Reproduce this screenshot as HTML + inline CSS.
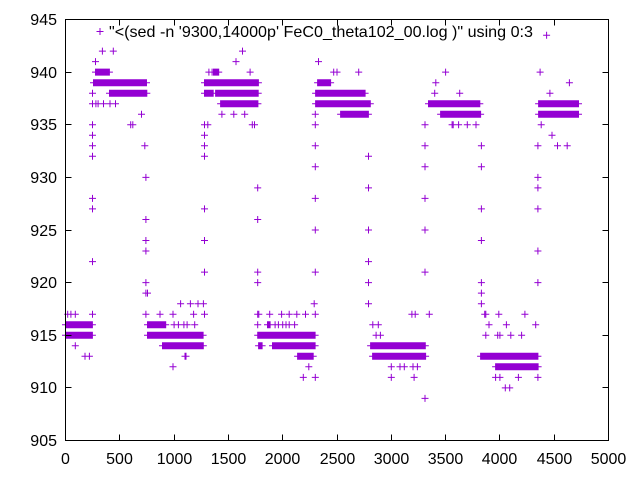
<!DOCTYPE html>
<html><head><meta charset="utf-8"><style>
body{margin:0;background:#fff}
svg{display:block;font-family:"Liberation Sans",Arial,sans-serif}
</style></head><body>
<svg id="chart" width="640" height="480" viewBox="0 0 640 480">
<rect x="0" y="0" width="640" height="480" fill="#fff"/>
<g id="marks"></g>
<rect x="65.5" y="19.5" width="543" height="421" fill="none" stroke="#000" stroke-width="1"/>
<g id="axes"></g>
<g>
<text x="533" y="37" font-size="16" text-anchor="end" fill="#000" textLength="424" lengthAdjust="spacingAndGlyphs">"&lt;(sed -n '9300,14000p' FeC0_theta102_00.log )" using 0:3</text>
<g id="legendMark"></g>
</g>
</svg>
<script>
const xTicks=[0,500,1000,1500,2000,2500,3000,3500,4000,4500,5000];
const yTicks=[905,910,915,920,925,930,935,940,945];
// runs of dense points: [xStart, xEnd, y]
const runStart=[0,0,276,258,405,755,755,893,1363,1280,1280,1382,1428,1860,1778,1778,1906,2137,2321,2303,2303,2533,2809,2828,3343,3454,3822,3960,4356,4356];
const runEnd=[249,249,405,746,755,930,1271,1271,1418,1778,1363,1778,1778,1888,2303,1814,2303,2284,2441,2763,2809,2790,3316,3316,3822,3822,4356,4356,4725,4725];
const runY=[916,915,940,939,938,916,915,914,940,939,938,938,937,916,915,914,914,913,939,938,937,936,914,913,937,936,913,912,937,936];
// isolated points
const ptX=[20,50,90,249,90,180,220,249,249,249,249,249,249,249,249,249,
 276,340,440,280,300,350,410,460,290,330,600,700,620,730,740,740,740,740,740,740,740,
 755,870,990,1180,1000,1040,1090,1120,1190,1060,1150,1220,1270,1100,1110,990,1280,1280,1280,1280,1280,1280,1280,1280,
 1320,1350,1700,1550,1600,1440,1550,1650,1280,1310,1720,1740,1570,1630,1770,1770,1770,1770,1770,1770,1770,1770,
 1780,1880,1990,2060,2130,2210,1930,1960,2000,2030,2060,2110,2290,2240,2190,2300,2300,2300,2300,2300,2300,2300,2300,2300,
 2330,2470,2700,2500,2790,2790,2790,2790,2790,2790,2830,2880,3190,3220,2860,2900,3000,3080,3120,3200,3240,3000,3210,3310,3310,3310,3310,3310,3310,3310,
 3350,3400,3410,3630,3500,3560,3620,3700,3780,3570,3830,3830,3830,3830,3830,3830,3830,
 3870,3990,4230,4330,3860,3980,4000,4100,4200,3870,4060,3900,3960,4000,4050,4090,4170,
 4350,4350,4350,4350,4350,4350,4350,4380,4480,4460,4640,4370,4430,4530,4620];
const ptY=[917,917,917,917,914,913,913,922,927,928,932,933,934,935,937,938,
 941,942,942,937,937,937,937,937,939,939,935,936,935,933,930,926,924,923,920,919,917,
 919,917,917,917,916,916,916,916,916,918,918,918,918,913,913,912,917,921,924,927,932,933,934,935,
 940,940,940,939,939,936,936,936,935,935,935,935,941,942,929,926,921,921,920,917,916,915,
 917,917,917,917,917,917,916,916,916,916,916,916,918,912,911,911,917,921,925,928,931,933,935,936,
 941,940,940,940,932,929,925,922,920,918,916,916,917,917,915,915,912,912,912,912,912,911,911,909,935,933,931,928,925,921,917,
 938,939,938,940,935,935,935,935,935,933,931,927,924,920,919,918,917,
 917,917,916,917,915,915,915,915,915,916,916,911,911,910,910,911,911,
 933,930,929,927,923,920,935,934,938,939,940,943.5,933,933,933];
const X0=65.5,X1=608.5,Y0=440.5,Y1=19.5;
const sx=v=>X0+(v-0)/(5000-0)*(X1-X0);
const sy=v=>Y0-(v-905)/(945-905)*(Y0-Y1);
const NS="http://www.w3.org/2000/svg";
const marks=document.getElementById('marks');
let d="";
function plus(px,py){d+=`M${(px-3.5).toFixed(1)} ${py.toFixed(1)}h7M${px.toFixed(1)} ${(py-3.5).toFixed(1)}v7`;}
for(let i=0;i<runY.length;i++){
  for(let x=runStart[i];x<=runEnd[i];x+=8){plus(sx(x),sy(runY[i]));}
}
for(let i=0;i<ptX.length;i++){plus(sx(ptX[i]),sy(ptY[i]));}
const p=document.createElementNS(NS,'path');
p.setAttribute('d',d);p.setAttribute('stroke','#9400d3');p.setAttribute('stroke-width','1');p.setAttribute('fill','none');


marks.appendChild(p);
const lm=document.createElementNS(NS,'path');
lm.setAttribute('d','M96.5 31.5h7M100 28v7');lm.setAttribute('stroke','#9400d3');


document.getElementById('legendMark').appendChild(lm);
const axes=document.getElementById('axes');
xTicks.forEach(v=>{
  const x=Math.round(sx(v)-0.5)+0.5;
  const t=document.createElementNS(NS,'path');
  t.setAttribute('d',`M${x} 440.5v-6M${x} 19.5v6`);t.setAttribute('stroke','#000');
  
  
  axes.appendChild(t);
  const l=document.createElementNS(NS,'text');
  l.setAttribute('x',x);l.setAttribute('y',464);l.setAttribute('text-anchor','middle');l.setAttribute('font-size','16');
  l.textContent=v;
  
  
  axes.appendChild(l);
});
yTicks.forEach(v=>{
  const y=Math.round(sy(v)-0.5)+0.5;
  const t=document.createElementNS(NS,'path');
  t.setAttribute('d',`M65.5 ${y}h6M608.5 ${y}h-6`);t.setAttribute('stroke','#000');
  
  
  axes.appendChild(t);
  const l=document.createElementNS(NS,'text');
  l.setAttribute('x',57);l.setAttribute('y',y+5.5);l.setAttribute('text-anchor','end');l.setAttribute('font-size','16');
  l.textContent=v;
  
  
  axes.appendChild(l);
});
</script>
</body></html>
